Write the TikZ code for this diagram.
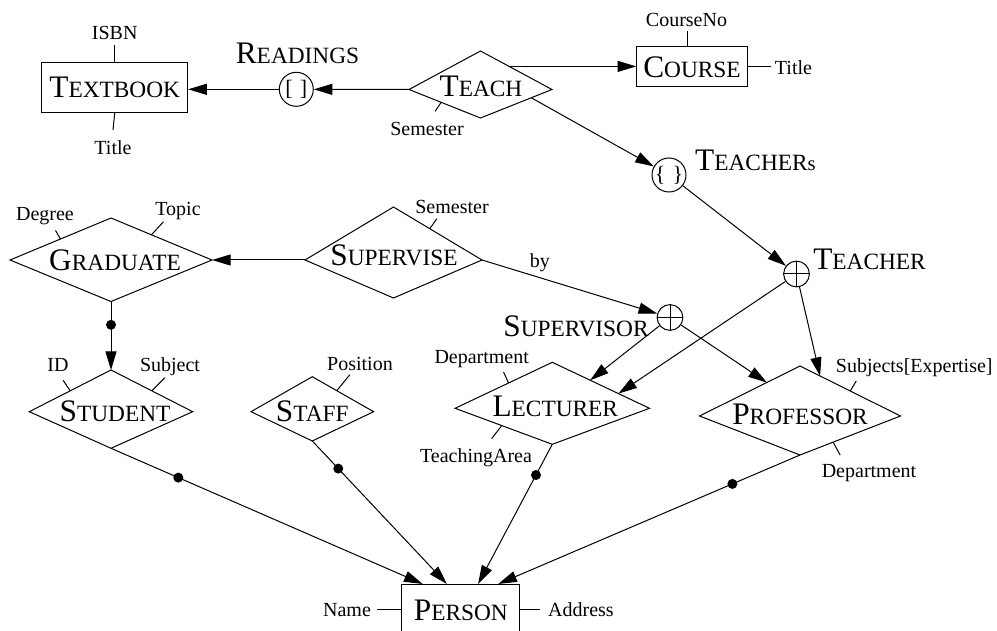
\documentclass[tikz,border=0pt]{standalone}
\usepackage{fontspec}
\setmainfont{Liberation Serif}
\usetikzlibrary{arrows.meta,calc}

% entity / relationship names: large initial, small capitals after it
\newcommand\ername[2]{{\fontsize{23.5}{24}\selectfont #1}{\fontsize{17.5}{18}\selectfont #2}}

% diamond: name, x, y, half width, upper half height, lower half height, text, text dx, text dy
\newcommand\erdiamond[9]{%
  \coordinate (#1-n) at ({#2},{#3-#5});
  \coordinate (#1-s) at ({#2},{#3+#6});
  \coordinate (#1-w) at ({#2-#4},{#3});
  \coordinate (#1-e) at ({#2+#4},{#3});
  \draw[link] (#1-n) -- (#1-e) -- (#1-s) -- (#1-w) -- cycle;
  \node[namelabel] (#1) at ({#2+#8},{#3+#9}) {#7};
}

\tikzset{
  link/.style={line width=0.75pt, line join=miter},
  arr/.style={link, -{Triangle[length=14pt,width=8.3pt]}},
  entity/.style={draw, line width=0.75pt, inner sep=0pt, text depth=0pt},
  namelabel/.style={inner sep=0pt, text depth=0pt},
  attr/.style={inner sep=0pt, text depth=0pt, font=\fontsize{15}{16}\selectfont},
  dot/.style={circle, fill=black, draw=none, inner sep=0pt, minimum size=7.5pt},
  coll/.style={circle, draw, line width=0.75pt, inner sep=0pt, minimum size=25.5pt,
    font=\fontsize{16.5}{17}\selectfont},
  oplus/.style={circle, draw, line width=0.75pt, inner sep=0pt, minimum size=19.3pt},
}

\begin{document}
\begin{tikzpicture}[x=0.75pt, y=-0.75pt]
\useasboundingbox (0,0) rectangle (997,631);
\clip (0,0) rectangle (997,631);

% ---------- entities ----------
\node[entity, minimum width=109.5pt, minimum height=37.8pt] (textbook) at (114.7,87.5) {\ername{T}{EXTBOOK}};
\node[entity, minimum width=83pt, minimum height=30pt] (course) at (692,66.7) {\ername{C}{OURSE}};
\node[entity, minimum width=88.7pt, minimum height=38pt] (person) at (460.8,609.8) {\ername{P}{ERSON}};

% ---------- diamonds ----------
\erdiamond{teach}{480.5}{89.5}{71.5}{38.5}{28.5}{\ername{T}{EACH}}{0.5}{-3}
\erdiamond{graduate}{111}{260}{101}{42}{41.5}{\ername{G}{RADUATE}}{4}{0}
\erdiamond{supervise}{393.5}{260}{88.5}{53}{38}{\ername{S}{UPERVISE}}{0.5}{-5}
\erdiamond{student}{111}{411.7}{81.7}{41.7}{36.6}{\ername{S}{TUDENT}}{4}{-0.7}
\erdiamond{staff}{312.3}{411.7}{61.3}{35}{29.3}{\ername{S}{TAFF}}{0}{-0.7}
\erdiamond{lecturer}{552.3}{408.3}{97.2}{46}{36}{\ername{L}{ECTURER}}{3}{-2.3}
\erdiamond{professor}{800}{416}{100.5}{50}{39}{\ername{P}{ROFESSOR}}{0}{-1.5}

% ---------- collection and union circles ----------
\node[coll] (readings) at (296.3,89.3) {[\,\,]};
\node[coll] (teachers) at (669,175) {\{\,\,\}};
\node[oplus] (teacher) at (796.5,274) {};
\node[oplus] (supervisor) at (670,317.5) {};
\draw[link] (teacher.north) -- (teacher.south) (teacher.west) -- (teacher.east);
\draw[link] (supervisor.north) -- (supervisor.south) (supervisor.west) -- (supervisor.east);

\node[namelabel] (readings-l) at (297.5,53.3) {\ername{R}{EADINGS}};
\node[namelabel] (teachers-l) at (755.5,160.3) {\ername{T}{EACHER}{\fontsize{15.5}{16}\selectfont s}};
\node[namelabel] (teacher-l) at (869.5,259.7) {\ername{T}{EACHER}};
\node[namelabel] (supervisor-l) at (576,326.3) {\ername{S}{UPERVISOR}};

% ---------- attributes ----------
\node[attr] (tb-isbn) at (114.7,33.3) {ISBN};
\node[attr] (tb-title) at (113,147.5) {Title};
\draw[link] (textbook.north) -- (tb-isbn.south |- 0,45.3);
\draw[link] (textbook.south) -- (tb-title.north |- 0,130);

\node[attr] (co-no) at (686.5,20) {CourseNo};
\node[attr] (co-title) at (793.5,67.5) {Title};
\coordinate (co-top) at ($(course.north)+(-5,0)$);
\draw[link] (co-top) -- ++(0,-14.7) coordinate (co-no-t);
\draw[link] (course.east) -- ++(23,0) coordinate (co-title-t);

\node[attr] (teach-sem) at (427,128.8) {Semester};
\draw[link] ($(teach-w)!0.45!(teach-s)$) -- ++(-6,9) coordinate (teach-sem-t);

\node[attr] (gr-degree) at (45,214) {Degree};
\node[attr] (gr-topic) at (178,209) {Topic};
\draw[link] ($(graduate-w)!0.5!(graduate-n)$) -- ++(-5,-8.5) coordinate (gr-degree-t);
\draw[link] ($(graduate-n)!0.4!(graduate-e)$) -- ++(12,-13) coordinate (gr-topic-t);

\node[attr] (sv-sem) at (452,206.7) {Semester};
\draw[link] ($(supervise-n)!0.41!(supervise-e)$) -- ++(7,-10) coordinate (sv-sem-t);

\node[attr] (st-id) at (58,364.5) {ID};
\node[attr] (st-subject) at (170,365) {Subject};
\draw[link] ($(student-w)!0.5!(student-n)$) -- ++(-7,-10.5) coordinate (st-id-t);
\draw[link] ($(student-n)!0.5!(student-e)$) -- ++(13,-13) coordinate (st-subject-t);

\node[attr] (sf-pos) at (360,364) {Position};
\draw[link] ($(staff-n)!0.4!(staff-e)$) -- ++(13,-16) coordinate (sf-pos-t);

\node[attr] (le-dept) at (481.7,357) {Department};
\node[attr] (le-area) at (476,456) {TeachingArea};
\draw[link] ($(lecturer-w)!0.55!(lecturer-n)$) -- ++(-5,-11) coordinate (le-dept-t);
\draw[link] ($(lecturer-w)!0.48!(lecturer-s)$) -- ++(-10,13) coordinate (le-area-t);

\node[attr, anchor=west] (pr-subj) at (835.7,365.5) {Subjects[Expertise]};
\node[attr] (pr-dept) at (869,471) {Department};
\draw[link] ($(professor-n)!0.5!(professor-e)$) -- ++(6,-10) coordinate (pr-subj-t);
\draw[link] ($(professor-s)!0.33!(professor-e)$) -- ++(7,13) coordinate (pr-dept-t);

\node[attr] (pe-name) at (347,610) {Name};
\node[attr] (pe-addr) at (581,610) {Address};
\draw[link] (person.west) -- ++(-24,0) coordinate (pe-name-t);
\draw[link] (person.east) -- ++(20,0) coordinate (pe-addr-t);

% ---------- relationships ----------
\draw[arr] (teach-w) -- (readings);
\draw[arr] (readings.west) -- (readings.west -| textbook.east);
\coordinate (teach-c) at ($(teach-n)!0.4!(teach-e)$);
\draw[arr] (teach-c) -- (teach-c -| course.west);
\draw[arr] ($(teach-e)!0.29!(teach-s)$) -- (teachers);
\draw[arr] (teachers) -- (teacher);

\draw[arr] (supervise-w) -- (graduate-e);
\draw[arr] (supervise-e) -- node[attr, pos=0.33, above=7.5pt] (by) {by} (supervisor);
\draw[arr] (graduate-s) -- node[dot, pos=0.34] (gr-dot) {} (student-n);

\draw[arr] (supervisor) -- ($(lecturer-n)!0.39!(lecturer-e)$);
\draw[arr] (teacher) -- ($(lecturer-n)!0.68!(lecturer-e)$);
\draw[arr] (supervisor) -- ($(professor-n)!0.33!(professor-w)$);
\draw[arr] (teacher) -- ($(professor-n)!0.2!(professor-e)$);

\draw[arr] (student-s) -- node[dot, pos=0.216] (st-dot) {} ($(person.north west)!0.18!(person.north east)$);
\draw[arr] (staff-s) -- node[dot, pos=0.193] (sf-dot) {} ($(person.north west)!0.383!(person.north east)$);
\draw[arr] (lecturer-s) -- node[dot, pos=0.22] (le-dot) {} ($(person.north west)!0.645!(person.north east)$);
\draw[arr] (professor-s) -- node[dot, pos=0.224] (pr-dot) {} ($(person.north west)!0.814!(person.north east)$);
\end{tikzpicture}
\end{document}
